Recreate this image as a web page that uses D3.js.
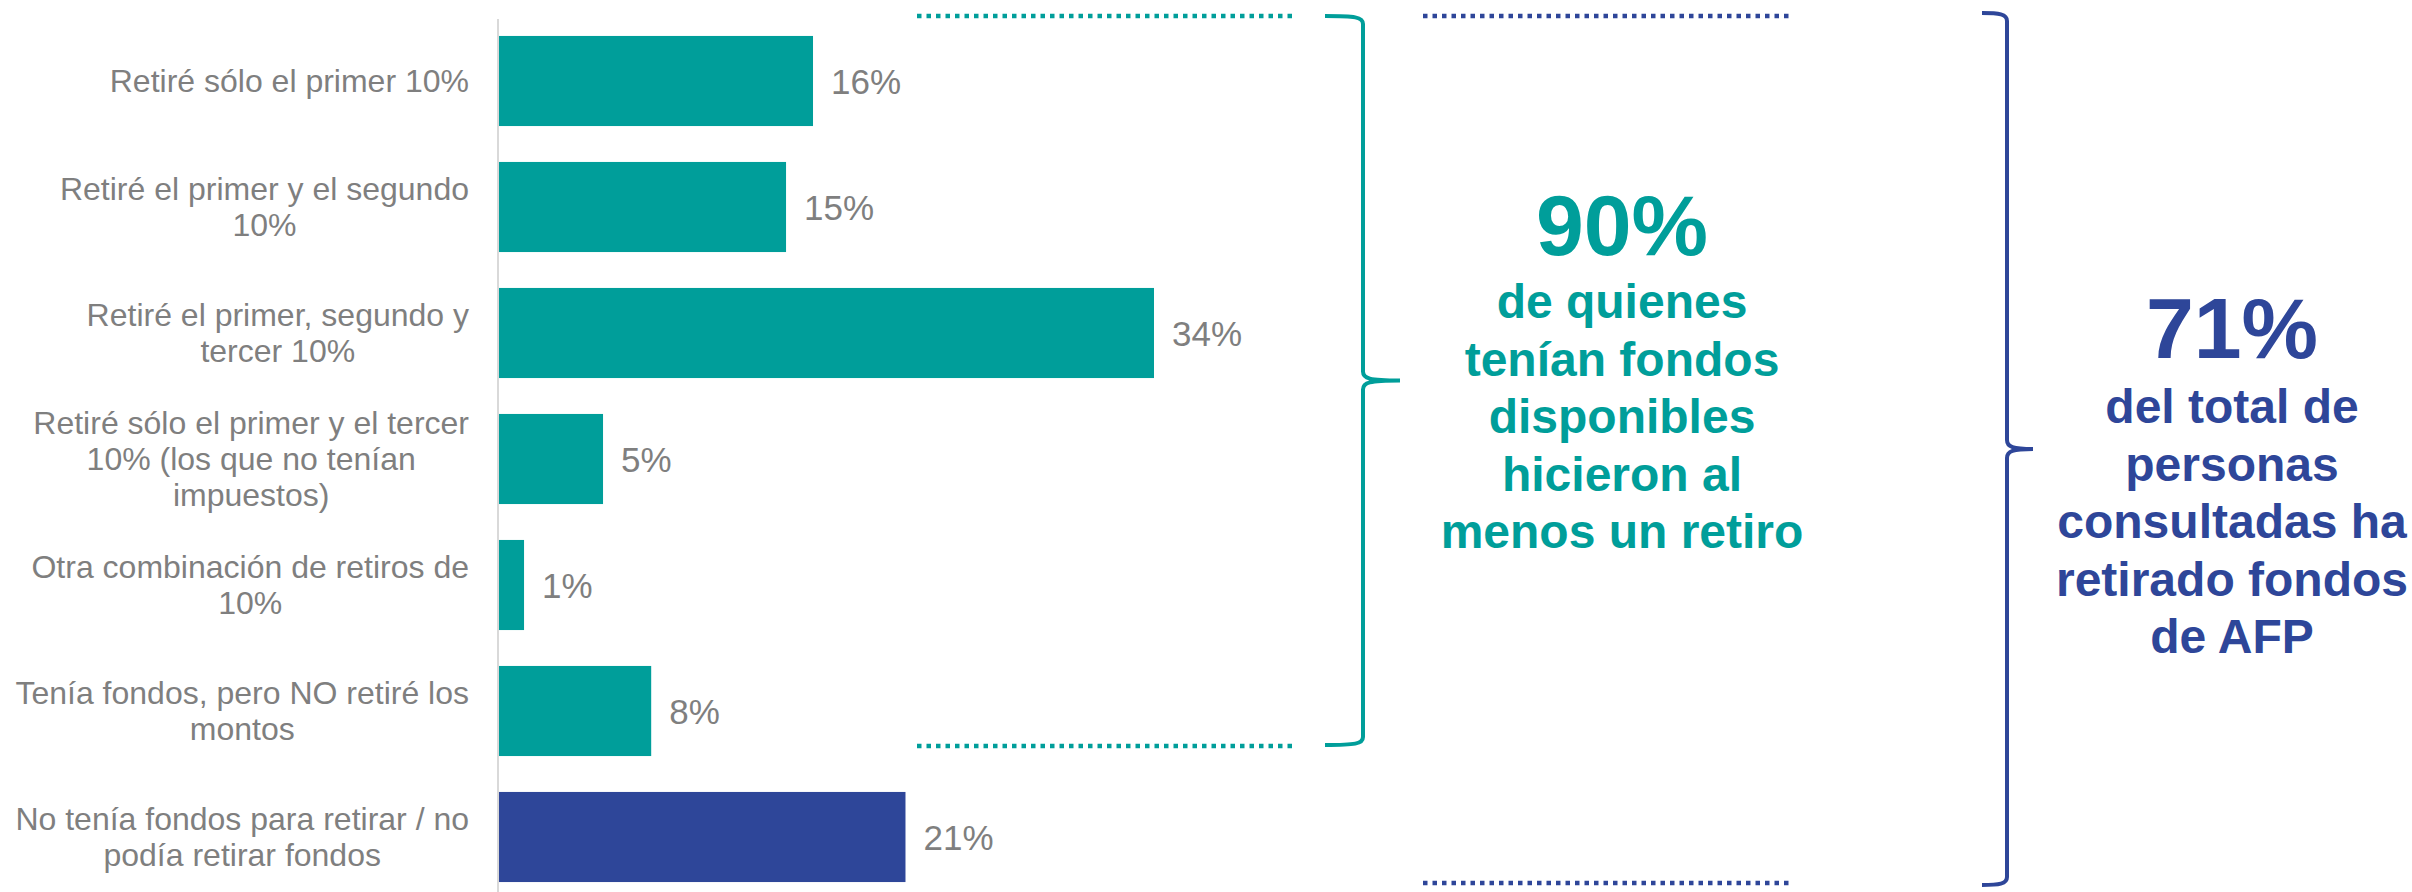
<!DOCTYPE html>
<html>
<head>
<meta charset="utf-8">
<title>Retiros de fondos AFP</title>
<script src="https://cdn.jsdelivr.net/npm/d3@7"></script>
<style>
  body { margin: 0; background: #fff; }
  svg { display: block; font-family: "Liberation Sans", Arial, sans-serif; }
</style>
</head>
<body>
<script>
// categorías (cada línea del rótulo separada por "|")
var categories = [
  "Retiré sólo el primer 10%",
  "Retiré el primer y el segundo|10%",
  "Retiré el primer, segundo y|tercer 10%",
  "Retiré sólo el primer y el tercer|10% (los que no tenían|impuestos)",
  "Otra combinación de retiros de|10%",
  "Tenía fondos, pero NO retiré los|montos",
  "No tenía fondos para retirar / no|podía retirar fondos"
];
var values = [16.3, 14.9, 34.0, 5.4, 1.3, 7.9, 21.1];
var groups = ["retiro", "retiro", "retiro", "retiro", "retiro", "retiro", "sinFondos"];

var tealLines = ["90%", "de quienes", "tenían fondos", "disponibles", "hicieron al", "menos un retiro"];
var navyLines = ["71%", "del total de", "personas", "consultadas ha", "retirado fondos", "de AFP"];

var W = 2412, H = 892;
var teal = "#009E9A", navy = "#2E4699", gray = "#7F7F7F";
var colors = { retiro: teal, sinFondos: navy };

var svg = d3.select("body").append("svg")
  .attr("width", W)
  .attr("height", H);

var x0 = 499;
var x = d3.scaleLinear().domain([0, 34]).range([x0, 1154]);
var y = d3.scaleBand()
  .domain(categories)
  .range([18, 900])
  .paddingInner(0.285)
  .paddingOuter(0.1425);

// eje vertical
svg.append("line")
  .attr("x1", x0 - 1).attr("x2", x0 - 1)
  .attr("y1", 19).attr("y2", H)
  .attr("stroke", "#D9D9D9")
  .attr("stroke-width", 2);

// barras
svg.selectAll("rect.bar")
  .data(categories)
  .enter()
  .append("rect")
  .attr("class", "bar")
  .attr("x", x(0))
  .attr("y", d => y(d))
  .attr("width", (d, i) => x(values[i]) - x(0))
  .attr("height", y.bandwidth())
  .attr("fill", (d, i) => colors[groups[i]]);

// valores
svg.selectAll("text.val")
  .data(categories)
  .enter()
  .append("text")
  .attr("class", "val")
  .attr("x", (d, i) => x(values[i]) + 18)
  .attr("y", d => y(d) + y.bandwidth() / 2 + 13)
  .attr("font-size", 35)
  .attr("fill", gray)
  .text((d, i) => d3.format(".0f")(values[i]) + "%");

// rótulos de categorías: bloque alineado a la derecha, líneas centradas
var labelRight = 469, lineH = 36;
categories.forEach(function (c) {
  var lines = c.split("|");
  var g = svg.append("g");
  var cy = y(c) + y.bandwidth() / 2;
  var texts = lines.map(function (l, i) {
    return g.append("text")
      .attr("y", cy + 11 + (i - (lines.length - 1) / 2) * lineH)
      .attr("text-anchor", "middle")
      .attr("font-size", 32)
      .attr("fill", gray)
      .text(l);
  });
  var maxW = d3.max(texts, t => t.node().getComputedTextLength());
  texts.forEach(t => t.attr("x", labelRight - maxW / 2));
});

// líneas punteadas
function dotted(x1, x2, yy, col) {
  svg.append("line")
    .attr("x1", x1).attr("x2", x2)
    .attr("y1", yy).attr("y2", yy)
    .attr("stroke", col)
    .attr("stroke-width", 4.5)
    .attr("stroke-dasharray", "4.5 5");
}
dotted(917, 1297, 16, teal);
dotted(917, 1297, 746, teal);
dotted(1423, 1789, 16, navy);
dotted(1423, 1789, 883, navy);

// llaves
function brace(xl, xv, xt, top, bot, col) {
  var mid = (top + bot) / 2;
  var p = d3.path();
  p.moveTo(xl, top);
  p.bezierCurveTo(xv - 8, top, xv, top + 1, xv, top + 8);
  p.lineTo(xv, mid - 9);
  p.bezierCurveTo(xv, mid - 2, xv + 6, mid, xt, mid);
  p.moveTo(xt, mid);
  p.bezierCurveTo(xv + 6, mid, xv, mid + 2, xv, mid + 9);
  p.lineTo(xv, bot - 8);
  p.bezierCurveTo(xv, bot - 1, xv - 8, bot, xl, bot);
  svg.append("path")
    .attr("d", p.toString())
    .attr("fill", "none")
    .attr("stroke", col)
    .attr("stroke-width", 4);
}
brace(1325, 1363, 1400, 16, 745, teal);
brace(1982, 2007, 2033, 13, 885, navy);

// textos destacados
function bigText(lines, cx, y0, y1, col) {
  var t = svg.append("g").attr("fill", col).attr("font-weight", "bold").attr("text-anchor", "middle");
  t.append("text").attr("x", cx).attr("y", y0).attr("font-size", 86).text(lines[0]);
  lines.slice(1).forEach(function (l, i) {
    t.append("text").attr("x", cx).attr("y", y1 + i * 57.5).attr("font-size", 48).text(l);
  });
}
bigText(tealLines, 1622, 255, 318, teal);
bigText(navyLines, 2232, 358, 423, navy);
</script>
</body>
</html>
